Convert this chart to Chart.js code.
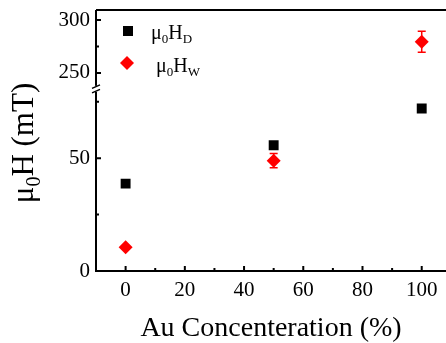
<!DOCTYPE html>
<html>
<head>
<meta charset="utf-8">
<script src="https://cdn.jsdelivr.net/npm/chart.js@4"></script>
<style>
  html, body { margin: 0; padding: 0; background: #fff; overflow: hidden; }
  #wrap { width: 446px; height: 343px; }
</style>
</head>
<body>
<div id="wrap"><canvas id="chart" width="446" height="343"></canvas></div>
<script>
// values
const concentration = [0, 50, 100];
const hD = [38.7, 55.7, 72.0];
const hDErr = [0, 0, 0];
const hW = [10.5, 48.9, 279.5];
const hWErr = [0, 3.2, 10];

const xTicks = [0, 10, 20, 30, 40, 50, 60, 70, 80, 90, 100];
const xLabelled = [0, 20, 40, 60, 80, 100];
const yLowTicks = [0, 25, 50, 75];
const yHighTicks = [250, 275, 300];
const yLabelled = [0, 50, 250, 300];

// broken axis: lower and upper pieces
const lowRange = [0, 80.7];
const highRange = [235, 309.5];

const FONT = "'Liberation Serif', 'Times New Roman', serif";
const RED = "#ff0000";
const BLACK = "#000000";

function split(vals, errs, upper) {
  return concentration
    .map((c, i) => ({ x: c, y: vals[i], err: errs[i] }))
    .filter(p => upper ? p.y >= highRange[0] : p.y <= lowRange[1]);
}

function series(vals, errs, upper, style, color) {
  return {
    data: split(vals, errs, upper),
    yAxisID: upper ? "y2" : "y",
    pointStyle: style,
    pointRadius: 7,
    pointHoverRadius: 7,
    borderWidth: 0,
    backgroundColor: color,
    borderColor: color,
    showLine: false
  };
}

// draws rich text with subscripts at baseline y
function richText(ctx, parts, x, y, size, align) {
  const subSize = Math.round(size * 0.66);
  let w = 0;
  parts.forEach(p => {
    ctx.font = (p.sub ? subSize : size) + "px " + FONT;
    p.w = ctx.measureText(p.t).width;
    w += p.w;
  });
  let cx = align === "center" ? x - w / 2 : x;
  ctx.textAlign = "left";
  ctx.textBaseline = "alphabetic";
  parts.forEach(p => {
    ctx.font = (p.sub ? subSize : size) + "px " + FONT;
    ctx.fillText(p.t, cx, p.sub ? y + size * 0.22 : y);
    cx += p.w;
  });
}

const errorBars = {
  id: "errorBars",
  beforeDatasetsDraw(chart) {
    const { ctx, scales } = chart;
    ctx.save();
    chart.data.datasets.forEach(ds => {
      const ys = scales[ds.yAxisID];
      ds.data.forEach(p => {
        if (!p.err) return;
        const px = scales.x.getPixelForValue(p.x);
        const top = ys.getPixelForValue(p.y + p.err);
        const bot = ys.getPixelForValue(p.y - p.err);
        ctx.strokeStyle = ds.borderColor;
        ctx.lineWidth = 1.5;
        ctx.beginPath();
        ctx.moveTo(px, top); ctx.lineTo(px, bot);
        ctx.moveTo(px - 4, top); ctx.lineTo(px + 4, top);
        ctx.moveTo(px - 4, bot); ctx.lineTo(px + 4, bot);
        ctx.stroke();
      });
    });
    ctx.restore();
  }
};

const frame = {
  id: "frame",
  afterDraw(chart) {
    const { ctx, chartArea: a, scales } = chart;
    ctx.save();
    ctx.strokeStyle = BLACK;
    ctx.lineWidth = 2;
    ctx.beginPath();
    ctx.moveTo(a.left, a.top); ctx.lineTo(a.right, a.top);
    ctx.moveTo(a.left, a.top); ctx.lineTo(a.left, a.bottom); ctx.lineTo(a.right, a.bottom);
    ctx.stroke();

    // inward ticks
    ctx.beginPath();
    xTicks.forEach(v => {
      const px = scales.x.getPixelForValue(v);
      const len = xLabelled.includes(v) ? 5 : 3;
      ctx.moveTo(px, a.bottom); ctx.lineTo(px, a.bottom - len);
    });
    yLowTicks.forEach(v => {
      const py = scales.y.getPixelForValue(v);
      const len = yLabelled.includes(v) ? 5 : 3;
      ctx.moveTo(a.left, py); ctx.lineTo(a.left + len, py);
    });
    yHighTicks.forEach(v => {
      const py = scales.y2.getPixelForValue(v);
      const len = yLabelled.includes(v) ? 5 : 3;
      ctx.moveTo(a.left, py); ctx.lineTo(a.left + len, py);
    });
    ctx.stroke();

    // x tick labels
    ctx.fillStyle = BLACK;
    ctx.font = "21px " + FONT;
    ctx.textAlign = "center";
    ctx.textBaseline = "middle";
    xLabelled.forEach(v => {
      ctx.fillText(String(v), scales.x.getPixelForValue(v), a.bottom + 19);
    });

    // axis break
    const yb = scales.y.top;
    ctx.fillStyle = "#fff";
    ctx.fillRect(a.left - 2, yb - 3, 4, 6);
    ctx.lineWidth = 1.5;
    ctx.beginPath();
    ctx.moveTo(a.left - 4, yb - 0.5); ctx.lineTo(a.left + 4, yb - 4);
    ctx.moveTo(a.left - 4, yb + 4); ctx.lineTo(a.left + 4, yb + 0.5);
    ctx.stroke();

    // y title
    ctx.fillStyle = BLACK;
    ctx.translate(33, 143);
    ctx.rotate(-Math.PI / 2);
    richText(ctx, [{ t: "\u03bc" }, { t: "0", sub: true }, { t: "H (mT)" }], 0, 0, 31, "center");
    ctx.restore();

    // legend
    ctx.save();
    ctx.fillStyle = BLACK;
    ctx.fillRect(123, 26, 10, 10);
    richText(ctx, [{ t: "\u03bc" }, { t: "0", sub: true }, { t: "H" }, { t: "D", sub: true }], 151, 39, 20, "left");
    ctx.fillStyle = RED;
    ctx.beginPath();
    ctx.moveTo(127, 56); ctx.lineTo(134, 63); ctx.lineTo(127, 70); ctx.lineTo(120, 63);
    ctx.closePath();
    ctx.fill();
    ctx.fillStyle = BLACK;
    richText(ctx, [{ t: "\u03bc" }, { t: "0", sub: true }, { t: "H" }, { t: "W", sub: true }], 156, 72, 20, "left");
    ctx.restore();
  }
};

const yScale = (range, ticks, weight) => ({
  type: "linear",
  position: "left",
  stack: "left",
  stackWeight: weight,
  min: range[0],
  max: range[1],
  grid: { display: false, drawTicks: false },
  border: { display: false },
  afterBuildTicks: s => { s.ticks = ticks.map(v => ({ value: v })); },
  afterFit: s => { s.width = 96; s.paddingTop = 0; s.paddingBottom = 0; },
  ticks: {
    padding: 6,
    color: BLACK,
    font: { family: FONT, size: 21 },
    callback: v => yLabelled.includes(v) ? String(v) : ""
  }
});

new Chart(document.getElementById("chart"), {
  type: "scatter",
  data: {
    datasets: [
      series(hD, hDErr, false, "rect", BLACK),
      series(hD, hDErr, true, "rect", BLACK),
      series(hW, hWErr, false, "rectRot", RED),
      series(hW, hWErr, true, "rectRot", RED)
    ]
  },
  options: {
    responsive: false,
    animation: false,
    layout: { autoPadding: false, padding: { top: 10, left: 0, right: 0, bottom: 0 } },
    plugins: { legend: { display: false }, tooltip: { enabled: false } },
    scales: {
      x: {
        type: "linear",
        min: -10,
        max: 108.2,
        grid: { display: false, drawTicks: false },
        border: { display: false },
        afterBuildTicks: s => { s.ticks = xTicks.map(v => ({ value: v })); },
        afterFit: s => { s.height = 72; s.paddingLeft = 0; s.paddingRight = 0; },
        ticks: { display: false },
        title: {
          display: true,
          text: "Au Concenteration (%)",
          color: BLACK,
          font: { family: FONT, size: 28, lineHeight: 1 },
          padding: { top: 13, bottom: 0 }
        }
      },
      y: yScale(lowRange, yLowTicks, 182.5),
      y2: yScale(highRange, yHighTicks, 79)
    }
  },
  plugins: [errorBars, frame]
});
</script>
</body>
</html>
